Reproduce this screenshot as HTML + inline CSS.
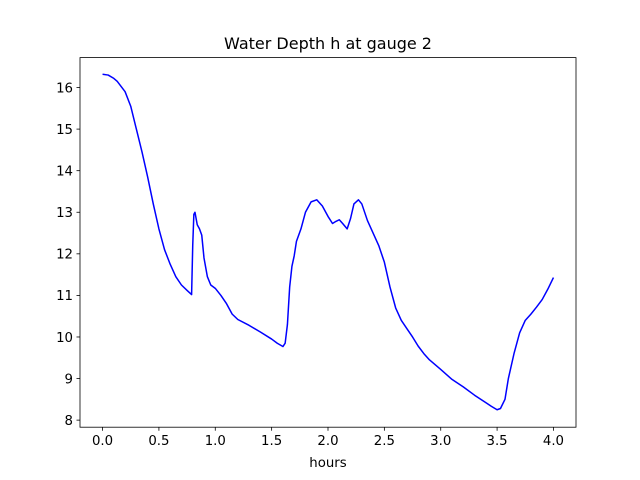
<!DOCTYPE html>
<html><head><meta charset="utf-8"><style>
html,body{margin:0;padding:0;background:#fff;}
svg{display:block;font-family:"DejaVu Sans","Liberation Sans",sans-serif;}
</style></head><body>
<svg id="chart" width="640" height="480" viewBox="0 0 640 480" xmlns="http://www.w3.org/2000/svg">
<rect width="640" height="480" fill="#fff"/>
<text x="328" y="49" font-size="16" text-anchor="middle">Water Depth h at gauge 2</text>
<g id="ticks"></g>
<path id="line" fill="none" stroke="#0000ff" stroke-width="1.5" stroke-linejoin="round"/>
<rect x="80" y="57.6" width="496" height="369.6" fill="none" stroke="#000" stroke-width="0.8"/>
<text x="328" y="467" font-size="13.3" text-anchor="middle">hours</text>
</svg>
<script>
const hoursX=[0,0.05,0.1,0.13,0.2,0.25,0.3,0.35,0.4,0.45,0.5,0.55,0.6,0.65,0.7,0.75,0.79,0.8,0.81,0.82,0.84,0.86,0.88,0.9,0.93,0.96,1.0,1.05,1.1,1.15,1.2,1.3,1.4,1.5,1.55,1.6,1.62,1.64,1.66,1.68,1.7,1.72,1.76,1.8,1.85,1.9,1.95,2.0,2.04,2.07,2.1,2.13,2.17,2.2,2.23,2.27,2.3,2.35,2.4,2.45,2.5,2.55,2.6,2.65,2.7,2.75,2.8,2.85,2.9,3.0,3.1,3.2,3.3,3.4,3.45,3.5,3.53,3.57,3.6,3.65,3.7,3.75,3.8,3.85,3.9,3.95,4.0];
const depthY=[16.32,16.3,16.22,16.15,15.9,15.55,15.0,14.45,13.85,13.2,12.6,12.1,11.75,11.45,11.25,11.12,11.02,12.2,12.95,13.0,12.7,12.6,12.45,11.9,11.45,11.25,11.17,11.0,10.8,10.55,10.42,10.28,10.12,9.95,9.85,9.77,9.85,10.3,11.2,11.7,11.95,12.3,12.6,13.0,13.25,13.3,13.15,12.9,12.73,12.78,12.82,12.73,12.6,12.85,13.2,13.3,13.2,12.8,12.5,12.2,11.8,11.2,10.7,10.4,10.2,10.0,9.78,9.6,9.45,9.22,8.98,8.8,8.6,8.42,8.33,8.25,8.28,8.5,9.0,9.6,10.1,10.4,10.55,10.72,10.9,11.15,11.43];
const xTickLabels=["0.0","0.5","1.0","1.5","2.0","2.5","3.0","3.5","4.0"];
const yTickLabels=["8","9","10","11","12","13","14","15","16"];

const L=80,R=576,T=57.6,B=427.2;
const xmin=-0.2,xmax=4.2,ymin=7.83,ymax=16.72;
function sx(v){return L+(v-xmin)/(xmax-xmin)*(R-L);}
function sy(v){return B-(v-ymin)/(ymax-ymin)*(B-T);}

let d="";
for(let i=0;i<hoursX.length;i++){d+=(i?"L":"M")+sx(hoursX[i]).toFixed(2)+","+sy(depthY[i]).toFixed(2);}
document.getElementById("line").setAttribute("d",d);

const NS="http://www.w3.org/2000/svg";
const g=document.getElementById("ticks");
xTickLabels.forEach(function(lab){
  const x=sx(parseFloat(lab));
  const ln=document.createElementNS(NS,"line");
  
  
  ln.setAttribute("x1",x);ln.setAttribute("x2",x);ln.setAttribute("y1",B);ln.setAttribute("y2",B+3.5);
  ln.setAttribute("stroke","#000");ln.setAttribute("stroke-width","0.8");
  g.appendChild(ln);
  const t=document.createElementNS(NS,"text");
  
  
  t.setAttribute("x",x);t.setAttribute("y",B+18);t.setAttribute("font-size","13.3");t.setAttribute("text-anchor","middle");
  t.textContent=lab;g.appendChild(t);
});
yTickLabels.forEach(function(lab){
  const y=sy(parseFloat(lab));
  const ln=document.createElementNS(NS,"line");
  
  
  ln.setAttribute("x1",L-3.5);ln.setAttribute("x2",L);ln.setAttribute("y1",y);ln.setAttribute("y2",y);
  ln.setAttribute("stroke","#000");ln.setAttribute("stroke-width","0.8");
  g.appendChild(ln);
  const t=document.createElementNS(NS,"text");
  
  
  t.setAttribute("x",L-7);t.setAttribute("y",y+4.8);t.setAttribute("font-size","13.3");t.setAttribute("text-anchor","end");
  t.textContent=lab;g.appendChild(t);
});
</script>
</body></html>
